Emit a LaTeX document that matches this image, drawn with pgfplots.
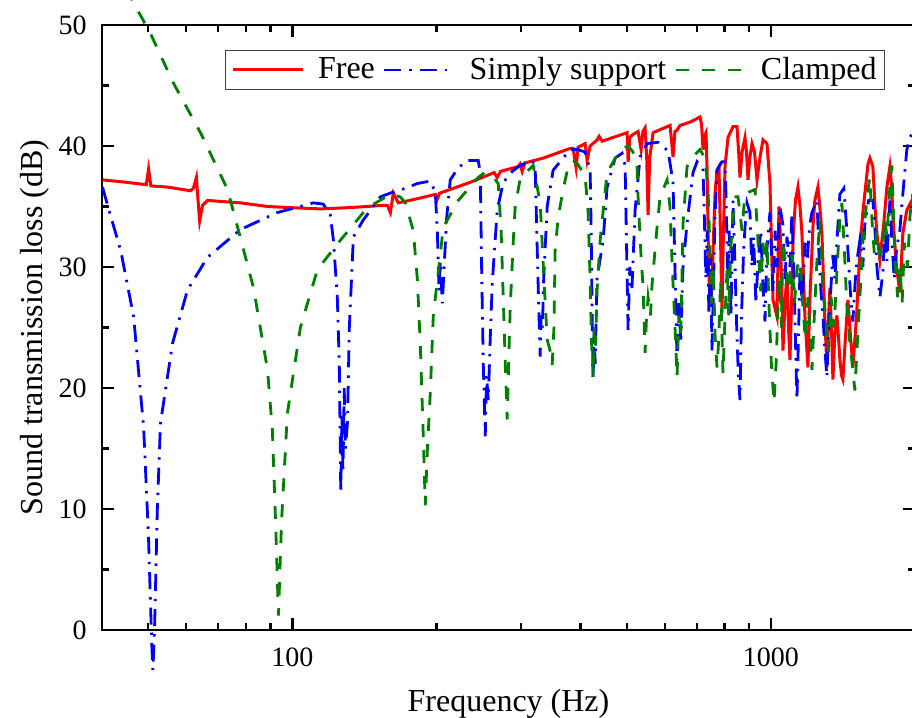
\documentclass[border=0pt]{standalone}
\usepackage{fontspec}
\setmainfont{Liberation Serif}
\usepackage{pgfplots}
\pgfplotsset{compat=1.18}
\definecolor{ogreen}{RGB}{0,128,0}

\begin{document}
\begin{tikzpicture}
\begin{axis}[
  at={(0pt,0pt)}, anchor=south west,
  scale only axis, width=406.5pt, height=302.5pt,
  xmode=log, xmin=40, xmax=2000, ymin=0, ymax=50,
  xtick={100,1000}, xticklabels={100,1000},
  minor xtick={40,50,60,70,80,90,200,300,400,500,600,700,800,900,2000},
  ytick={0,10,20,30,40,50}, minor ytick={5,15,25,35,45},
  tick pos=both, tick align=inside,
  major tick length=6pt, minor tick length=3.5pt,
  every tick/.style={black, line width=1.1pt},
  axis line style={line width=1.2pt},
  clip=false,
  /pgf/number format/assume math mode=true,
  tick label style={font=\fontsize{14}{16}\selectfont},
  xticklabel style={anchor=base, yshift=-18.5pt},
  yticklabel style={anchor=east, inner sep=0pt, xshift=-7.5pt},
  xlabel={Frequency (Hz)},
  ylabel={Sound transmission loss (dB)},
  label style={font=\fontsize{16}{19}\selectfont},
  xlabel style={at={(axis description cs:0.5,-0.1339)}, anchor=base},
  ylabel style={at={(axis description cs:-0.0726,0.5)}, anchor=base},
  legend columns=3,
  legend style={at={(axis description cs:0.963,0.9587)}, anchor=north east,
    draw=black!75, font=\fontsize{16}{19}\selectfont,
    inner xsep=3pt, inner ysep=2.5pt, nodes={inner sep=1pt},
    /tikz/every odd column/.append style={column sep=6pt},
    /tikz/every even column/.append style={column sep=3pt}},
  legend image code/.code={\draw[#1] (0pt,0pt) -- (35pt,0pt);},
]

% free edge
\addplot[red, line width=1.5pt] coordinates {
(40.1,37.2) (45,37.0) (49.5,36.8) (50.05,38.1) (50.6,36.7) (55,36.6) (61.2,36.3)
(62.1,36.5) (63.0,37.4) (63.5,35.5) (64.0,33.8) (64.9,35.1) (66.5,35.5) (77.9,35.3)
(88.7,35.0) (100,34.9) (114.4,34.8) (130,34.9) (143.4,35.0) (155,35.1) (157.9,35.1)
(160.2,34.5) (162.5,36.1) (166.5,35.3) (185,35.7) (199,36.0) (200.8,35.6) (203,36.1)
(235.3,37.0) (264,37.8) (267.9,37.4) (272,37.9) (296.4,38.3) (299,38.5) (302.1,37.9)
(306,38.6) (334.2,39.0) (380.5,39.8) (386,39.8) (391.6,38.2) (395.4,39.9) (409,40.2)
(412.9,38.8) (418.9,40.0) (433.3,40.5) (437.4,40.8) (443.8,40.4) (500.5,41.1) (502.9,38.7)
(507,40.7) (512.6,40.9) (527.6,41.2) (535.3,39.7) (540,41.2) (545.7,41.5) (550,39)
(553.6,34.3) (558,39) (567.1,41.1) (615.4,41.7) (624.3,39.1) (630,41.2) (636.4,41.3)
(645.7,41.7) (680,42.0) (710.8,42.4) (716,41.8) (721.2,39.7) (726,40.8) (731.6,41.1)
(735.5,38) (741,30) (746,26.7) (750,27.5) (755,30) (764,36) (771.4,38.0) (778.8,38.3)
(784,33) (790.2,26.2) (795,32) (801.6,38.3) (813.3,40.7) (833.1,41.6) (849.3,41.6)
(856,39.5) (861.6,37.4) (870,39.5) (882.6,40.7) (889,39.5) (895.4,37.2) (903,39)
(912.8,40.2) (924,39.5) (935,37.2) (948,39) (962.4,40.5) (981,40.2) (995.2,36.9)
(1009.7,27.3) (1029.3,25.9) (1039.2,35.0) (1045,33) (1054,28) (1059.4,23.1) (1070,27)
(1080,29.5) (1088,25) (1095.7,22.3) (1106,28) (1111.6,32.2) (1125,35.5) (1138.6,36.6)
(1150,35) (1160.7,32.8) (1177.6,25.9) (1194.7,21.7) (1205,27) (1223.8,33.3) (1235,35.5)
(1253.5,36.6) (1265,35) (1277.9,32.8) (1295,26) (1309,21.7) (1320,26) (1328,28.3)
(1340,24) (1347.3,20.7) (1360,24.5) (1373.5,26) (1385,24) (1393.4,22.3) (1405,21)
(1413.7,20.7) (1430,24) (1448.1,27.3) (1465,24.5) (1483.3,21.7) (1510,26) (1534,31.4)
(1556,34.5) (1571.4,36.1) (1595,38.5) (1609.6,39.0) (1633,38.3) (1650,35) (1664.7,32.8)
(1688.9,30.6) (1720,33.5) (1746.8,36.6) (1772.2,38.3) (1789,36.5) (1797.9,34.1)
(1830,30) (1859.4,27.9) (1886.4,32.8) (1923,34.7) (1969.7,35.5) (2000,35.8)
};
\addlegendentry{Free}

% simply supported edge
\addplot[blue, line width=1.4pt, dash pattern=on 8.5pt off 4pt on 1.2pt off 4pt] coordinates {
(40.1,36.6) (41.5,34.5) (43.75,31.4) (46.57,25.9) (48.86,16.8) (50.0,8) (50.8,-1)
(51.1,-3.3) (51.5,0) (52.2,10) (53.0,17.1) (56.17,23.7) (60.36,28.1) (66.45,30.8)
(77.9,33.1) (93.0,34.5) (110.6,35.3) (116,35.2) (120.0,34.3) (121.8,32.2) (124.1,27.5)
(125.3,22) (126.2,11.3) (126.9,18) (127.5,13) (128.3,20) (129.0,15) (130.3,17.1)
(131.5,25) (134.1,32.5) (140.7,33.9) (152.7,35.8) (162.5,36.2) (172.2,36.5) (182.4,36.9)
(194.1,37.1) (198.9,36.2) (200.8,33) (202.5,28) (203.7,30.5) (205.7,27.0) (207.5,30)
(210,34) (213.7,37.2) (222.1,38.2) (231.9,38.8) (244.5,38.8) (246.9,37.8) (248.5,30)
(250.5,22) (252.9,16.0) (254.5,21) (256.6,19) (259,24) (261.6,28.7) (267.9,34.7)
(275.8,37.0) (288,37.9) (299.2,38.4) (317,38.8) (321.6,38.2) (324,33) (327,27)
(329.4,22.6) (331,26) (333,25) (335,29) (340.7,35.0) (350.6,38.0) (367.9,39.0)
(380.5,39.7) (395,39.7) (409,39.5) (418.9,38.0) (421,33) (423,26) (425,20.7) (427,25)
(429.1,22) (433,29) (445.9,32.2) (454.6,36.6) (472.4,39.0) (488.6,39.4) (495.7,38.4)
(499,32) (502.9,24.8) (507,30) (512,28) (520.1,34.7) (532.7,39.1) (551.0,40.2)
(580.9,40.3) (609.5,39.6) (624.3,37.0) (630,30) (636.4,22.3) (642,27) (648,24) (655,30)
(667.8,33.6) (687.3,37.8) (700.7,38.7) (721.2,38.2) (726,34) (731,29) (736,33) (742,26)
(748,31) (753,23.1) (758,28) (764,34) (771.4,38.0) (790.2,38.7) (801.6,38.7) (806,35.5)
(812,29) (818,33) (825,26) (833,35.5) (840,31) (848,25) (855,21) (861.6,19.0) (868,26)
(876,31) (882.6,33.3) (891,35.3) (904,34.5) (912,30) (920,32.5) (930,27) (940,30.5)
(952,33) (962,28.5) (971.7,25.5) (981,31.5) (995,34.5) (1010,28) (1020,33) (1030,30)
(1044,35) (1059,33.5) (1070,29) (1080,32.5) (1096,30) (1106,34.5) (1116,30) (1125,24)
(1133,19.0) (1142,24.5) (1150,30) (1162,27) (1178,32) (1190,30.5) (1205,33.5)
(1218,34.5) (1248,35.5) (1260,31) (1272,28) (1284,26) (1297,23) (1309,20.9) (1320,25)
(1333,28) (1347,31) (1360,29) (1373,32) (1393,36.0) (1420,36.5) (1441,33) (1448,31.4)
(1465,28) (1483,25.5) (1498,28.5) (1512,30.5) (1534,32.2) (1556,30) (1571,33.5)
(1600,35.5) (1633,35.5) (1650,33) (1665,30) (1689,27.5) (1713,29.5) (1730,33)
(1747,30.5) (1772,35.5) (1790,32) (1810,29) (1830,31.5) (1859,33) (1886,36) (1923,39.7)
(1951,40.7) (1970,41) (2000,41.2)
};
\addlegendentry{Simply support}

% clamped edge
\addplot[ogreen, line width=1.4pt, dash pattern=on 6.5pt off 6.5pt] coordinates {
(45.0,53.0) (46.6,51.8) (50.5,49.3) (56.4,45.2) (64.25,41.1) (73.2,36.4) (76.8,33.3)
(82.9,28.3) (88.7,21.5) (90.8,16.5) (92.2,9) (93.5,1.2) (94.9,9) (97.6,17.9) (103.9,25)
(112.8,29.8) (125.9,32.2) (143.4,34.9) (160.2,36.0) (168,35.8) (172.2,35.3) (178.9,33.0)
(182.4,29) (185,23.7) (187.7,16) (189.5,10.3) (191.5,15) (194.1,19.5) (197,26)
(200.8,28.9) (206.7,33.3) (222.1,35.5) (244.5,37.4) (252,37.8) (262,37.5) (269.2,36.9)
(273,33) (276,27) (278.5,22) (281.1,17.4) (283,22) (285.2,26.7) (289.3,32) (292.1,35.0)
(299.2,37.3) (318.5,38.4) (321.6,37.5) (329.4,35.3) (334.2,30.3) (340.7,24) (346,23)
(349.0,21.9) (352,25) (354,31.4) (359.2,34.1) (367.9,36.4) (376.9,38.3) (386,38.8)
(395,38.5) (409,37.5) (414.9,34.5) (418.9,29) (421.5,24) (425,20.9) (427.5,25)
(430,23.5) (433,28) (439.5,32.2) (454.6,37.8) (483.9,39.7) (502.9,40.0) (515,39.5)
(525,38.3) (527.6,35.8) (535,31) (540.5,28.3) (545.7,22.9) (549,25.5) (553.6,27.5)
(560,26) (564.4,28.6) (578.1,33.3) (586.5,35.8) (606.6,37.2) (615,35) (622,30)
(630.3,25) (636.4,20.9) (642,26) (648,24.5) (655.1,33.6) (667.8,38.3) (690,39.2)
(710.8,39.7) (728.1,39.0) (738.7,36.4) (745,32) (752,27) (758,30) (764,24.5) (771.4,21.7)
(778,24) (785,29) (794,21.2) (803,26.7) (810,30) (816,26) (822,31) (833,34) (845,35.8)
(853.4,35.8) (870,33) (882,36) (900,36.2) (926,36.4) (940,32) (952,28) (962,32)
(971.7,30.5) (981,32.2) (990,27) (1002,22) (1014.5,18.8) (1025,22) (1035,27) (1044,29)
(1052,25) (1059,32.2) (1075,30) (1090,28) (1105,31) (1120,27) (1135,30) (1149.6,30.6)
(1165,27) (1180,24) (1195,27.5) (1218,21.5) (1232,26) (1247.5,30.5) (1265.7,33.9)
(1280,29) (1300,26) (1318,23) (1335,27.5) (1355,25) (1375,30) (1393,33.9) (1407,35.3)
(1425,31) (1440,27) (1460,24) (1478,22) (1497.6,19.8) (1512,23) (1534,27.5) (1556,32)
(1590,36) (1609.6,37.4) (1625,34) (1645,31) (1665,33) (1689,31) (1713,31.4) (1730,34)
(1747,32.5) (1772,36.6) (1789,38.4) (1805,34) (1820,30) (1840,27.5) (1860,30) (1880,27)
(1900,32) (1930,30) (1951,34.1) (1975,36) (2000,33)
};
\addlegendentry{Clamped}

\end{axis}
\pgfresetboundingbox
\path[use as bounding box] (-51pt,-44pt) rectangle (405pt,315pt);
\end{tikzpicture}
\end{document}
